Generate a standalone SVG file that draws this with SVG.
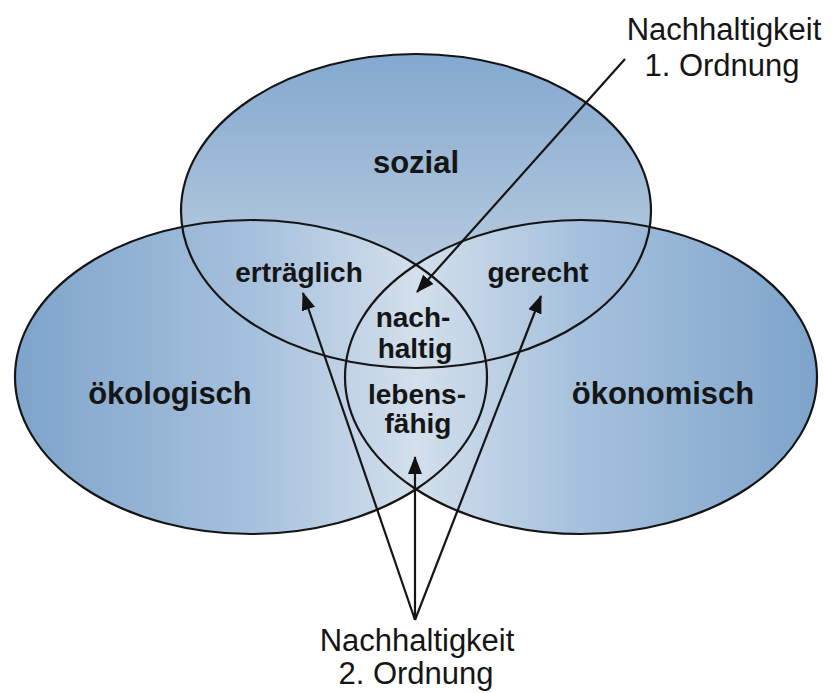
<svg xmlns="http://www.w3.org/2000/svg" width="838" height="693" viewBox="0 0 838 693">
<defs>
<linearGradient id="gSoz" gradientUnits="userSpaceOnUse" x1="0" y1="54" x2="0" y2="368">
<stop offset="0" stop-color="#84a8cf"/>
<stop offset="0.45" stop-color="#a5bfd9"/>
<stop offset="1" stop-color="#cbdae8"/>
</linearGradient>
<linearGradient id="gLow" gradientUnits="userSpaceOnUse" x1="15" y1="0" x2="818" y2="0">
<stop offset="0" stop-color="#7ea4cb"/>
<stop offset="0.3" stop-color="#a6c1dd"/>
<stop offset="0.5" stop-color="#d3dfeb"/>
<stop offset="0.7" stop-color="#a6c1dd"/>
<stop offset="1" stop-color="#7ea4cb"/>
</linearGradient>
<marker id="ah" viewBox="0 0 18 14" refX="17" refY="7" markerWidth="18" markerHeight="14" markerUnits="userSpaceOnUse" orient="auto">
<path d="M0,0 L18,7 L0,14 Z" fill="#111"/>
</marker>
</defs>
<style>
.outline{fill:none;stroke:#151515;stroke-width:2.2}
.lbl{font-family:"Liberation Sans",Arial,sans-serif;font-weight:bold;fill:#151515;text-anchor:middle}
.big{font-size:31px}
.mid{font-size:28px}
.note{font-family:"Liberation Sans",Arial,sans-serif;font-size:31px;fill:#151515;text-anchor:middle}
.arr{fill:none;stroke:#151515;stroke-width:2.2;marker-end:url(#ah)}
</style>
<g id="fills">
<ellipse cx="416" cy="211" rx="235" ry="157" fill="url(#gSoz)"/>
<ellipse cx="251" cy="377" rx="236" ry="157" fill="url(#gLow)"/>
<ellipse cx="581" cy="377" rx="236" ry="157" fill="url(#gLow)"/>
</g>
<g id="sozial">
<ellipse class="outline" cx="416" cy="211" rx="235" ry="157"/>
<text class="lbl big" x="416" y="173">sozial</text>
</g>
<g id="oekologisch">
<ellipse class="outline" cx="251" cy="377" rx="236" ry="157"/>
<text class="lbl big" x="170" y="404">ökologisch</text>
</g>
<g id="oekonomisch">
<ellipse class="outline" cx="581" cy="377" rx="236" ry="157"/>
<text class="lbl big" x="663" y="404">ökonomisch</text>
</g>
<g id="ertraeglich">
<text class="lbl mid" x="299" y="282">erträglich</text>
</g>
<g id="gerecht">
<text class="lbl mid" x="538" y="282">gerecht</text>
</g>
<g id="nachhaltig">
<text class="lbl mid" x="413" y="327">nach-</text>
<text class="lbl mid" x="415" y="358">haltig</text>
</g>
<g id="lebensfaehig">
<text class="lbl mid" x="417" y="404">lebens-</text>
<text class="lbl mid" x="418" y="433">fähig</text>
</g>
<g id="ordnung1">
<text class="note" x="724" y="40">Nachhaltigkeit</text>
<text class="note" x="722" y="76">1. Ordnung</text>
</g>
<g id="ordnung2">
<text class="note" x="417" y="651">Nachhaltigkeit</text>
<text class="note" x="416" y="684">2. Ordnung</text>
</g>
<g id="connectors">
<line class="arr" x1="625" y1="59" x2="417" y2="292"/>
<line class="arr" x1="415" y1="620" x2="303" y2="293"/>
<line class="arr" x1="415" y1="620" x2="541" y2="296"/>
<line class="arr" x1="415" y1="620" x2="415" y2="457"/>
</g>
</svg>
